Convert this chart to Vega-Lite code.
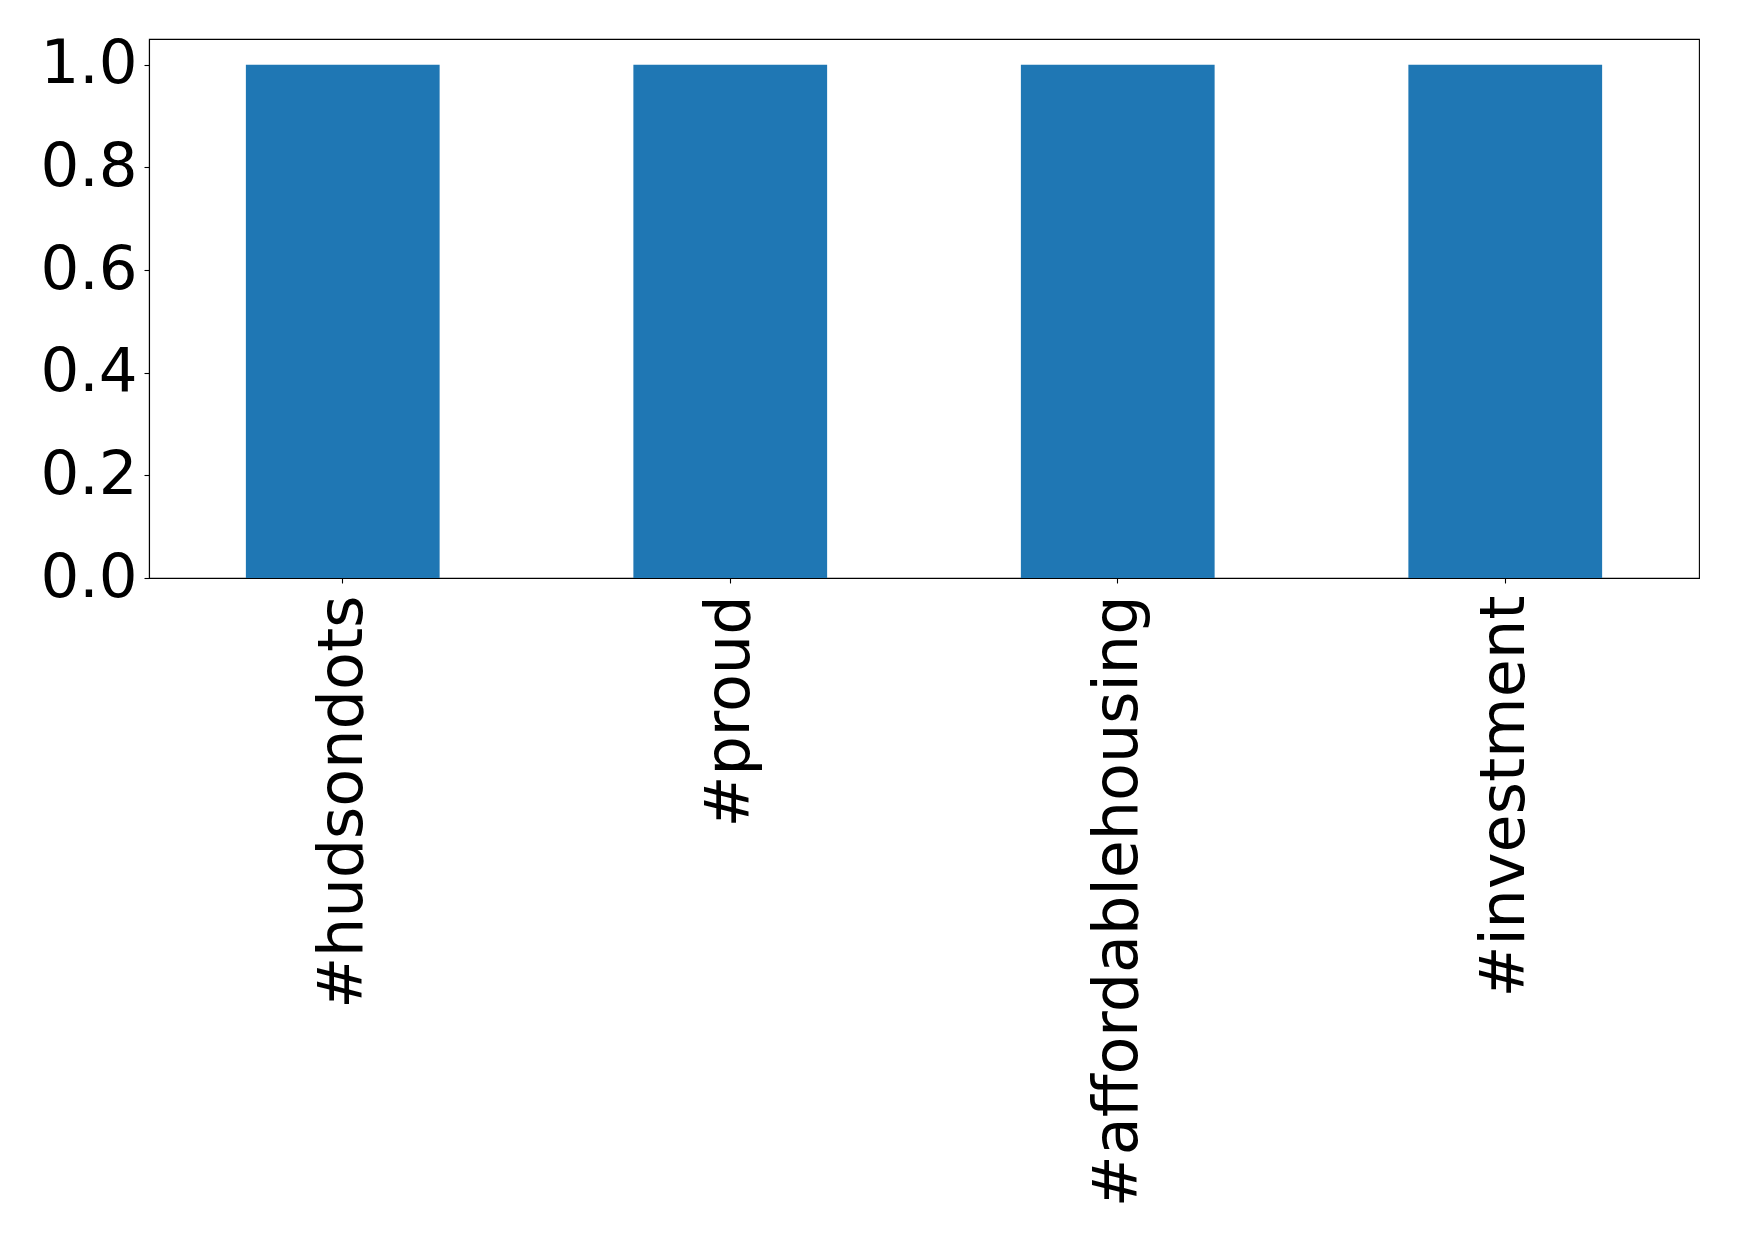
{
  "$schema": "https://vega.github.io/schema/vega-lite/v6.json",
  "autosize": {"type": "none"},
  "padding": {"left": 149, "top": 39, "right": 40, "bottom": 667},
  "width": 1550,
  "height": 539,
  "background": "white",
  "config": {
    "view": {"stroke": "black", "strokeWidth": 1.1},
    "axis": {
      "grid": false,
      "domainColor": "black",
      "tickColor": "black",
      "tickSize": 5,
      "tickWidth": 1.1,
      "domainWidth": 1.1,
      "labelFont": "DejaVu Sans",
      "labelFontSize": 61,
      "labelColor": "black",
      "labelLimit": 0,
      "title": null
    }
  },
  "data": {
    "values": [
      {"tag": "#hudsondots", "count": 1},
      {"tag": "#proud", "count": 1},
      {"tag": "#affordablehousing", "count": 1},
      {"tag": "#investment", "count": 1}
    ]
  },
  "mark": {"type": "bar", "color": "#1f77b4"},
  "encoding": {
    "x": {
      "field": "tag",
      "type": "nominal",
      "sort": null,
      "scale": {"paddingInner": 0.5, "paddingOuter": 0.25},
      "axis": {"labelAngle": -90, "labelPadding": 12, "labelFontSize": 62, "domain": true}
    },
    "y": {
      "field": "count",
      "type": "quantitative",
      "scale": {"domain": [0, 1.05], "nice": false},
      "axis": {"values": [0, 0.2, 0.4, 0.6, 0.8, 1.0], "format": ".1f", "labelPadding": 7}
    }
  }
}
